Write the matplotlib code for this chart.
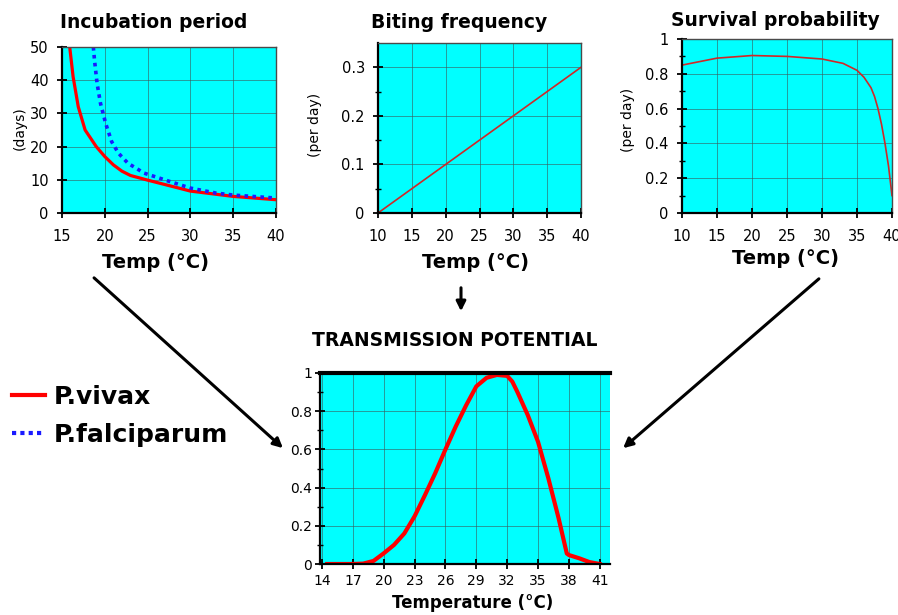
import numpy as np
import matplotlib
matplotlib.use('Agg')
import matplotlib.pyplot as plt
from matplotlib.patches import FancyArrowPatch
from matplotlib.lines import Line2D

# incubation period (days)
vivax_t = [15.9, 16.3, 16.9, 17.7, 19, 20, 21, 22, 23, 25, 28.8, 30, 35, 40]
vivax_days = [50, 41, 32, 25, 20, 17, 14.5, 12.6, 11.3, 9.9, 7.4, 6.6, 5.0, 4.0]
falc_t = [18.66, 18.8, 19.1, 19.5, 20.1, 20.8, 21.6, 22.7, 24.6, 27.7, 30, 33, 35, 40]
falc_days = [50, 46, 39, 33, 27, 21.5, 18, 15, 12, 9.4, 7.5, 6.0, 5.4, 4.5]

# biting frequency (per day)
bite_t = [10, 15, 20, 25, 30, 35, 40]
bite_freq = [0, 0.05, 0.1, 0.15, 0.2, 0.25, 0.3]

# survival probability (per day)
surv_t = [10, 15, 20, 25, 30, 33, 35, 36, 37, 37.5, 38, 38.5, 39, 39.5, 40]
surv_p = [0.85, 0.89, 0.905, 0.9, 0.885, 0.86, 0.82, 0.78, 0.72, 0.67, 0.6, 0.51, 0.4, 0.27, 0.1]

# transmission potential
trans_t = [14.5, 16, 17, 18, 19, 20, 21, 22, 23, 24, 25, 26, 27, 28, 29, 30, 31, 32, 32.5,
           33, 34, 35, 36, 37, 37.8, 38, 39, 40, 41]
trans_v = [0, 0, 0, 0.002, 0.016, 0.056, 0.1, 0.16, 0.25, 0.36, 0.475, 0.6, 0.72, 0.83, 0.93,
           0.975, 0.99, 0.985, 0.955, 0.9, 0.78, 0.64, 0.45, 0.24, 0.055, 0.047, 0.03, 0.01, 0]

W, H = 898, 615
CYAN = '#00ffff'
GRID = '#3c5a5a'


def fx(x):
    return x / W


def fy(y):
    return 1 - y / H


def make_ax(fig, left, top, right, bottom, xpad=8, ypad=6, size=10.5):
    ax = fig.add_axes([fx(left), fy(bottom), (right - left) / W, (bottom - top) / H])
    ax.set_facecolor(CYAN)
    ax.grid(True, color=GRID, lw=0.6, alpha=0.7)
    ax.set_axisbelow(True)
    for s in ['left', 'bottom']:
        ax.spines[s].set_color('black')
        ax.spines[s].set_linewidth(1.6)
    for s in ['top', 'right']:
        ax.spines[s].set_color('#4a4a4a')
        ax.spines[s].set_linewidth(1.0)
    ax.tick_params(which='major', direction='inout', length=7, width=1.3, labelsize=size)
    ax.tick_params(axis='x', which='major', pad=xpad)
    ax.tick_params(axis='y', which='major', pad=ypad)
    ax.tick_params(which='minor', direction='inout', length=5, width=1.0)
    return ax


fig = plt.figure(figsize=(W / 100, H / 100), dpi=100)

# Incubation period
ax1 = make_ax(fig, 62, 47, 276, 213)
ax1.plot(vivax_t, vivax_days, color='#ff0000', lw=2.3)
ax1.plot(falc_t, falc_days, color='#1a1aff', lw=2.6, ls=(0, (1, 1.2)))
ax1.set_xlim(15, 40)
ax1.set_ylim(0, 50)
ax1.set_xticks(range(15, 41, 5))
ax1.set_yticks(range(0, 51, 10))

# Biting frequency
ax2 = make_ax(fig, 378, 43, 581, 213)
ax2.plot(bite_t, bite_freq, color='#d02828', lw=1.2)
ax2.set_xlim(10, 40)
ax2.set_ylim(0, 0.35)
ax2.set_xticks(range(10, 41, 5))
ax2.set_yticks([0, 0.1, 0.2, 0.3])
ax2.set_yticklabels(['0', '0.1', '0.2', '0.3'])
ax2.set_yticks([0.05, 0.15, 0.25], minor=True)

# Survival probability
ax3 = make_ax(fig, 682, 39, 892, 213)
ax3.plot(surv_t, surv_p, color='#d02828', lw=1.2)
ax3.set_xlim(10, 40)
ax3.set_ylim(0, 1)
ax3.set_xticks(range(10, 41, 5))
ax3.set_yticks([0, 0.2, 0.4, 0.6, 0.8, 1])
ax3.set_yticklabels(['0', '0.2', '0.4', '0.6', '0.8', '1'])
ax3.set_yticks([0.1, 0.3, 0.5, 0.7, 0.9], minor=True)

# Transmission potential
ax4 = make_ax(fig, 320, 373, 610, 564, xpad=4, ypad=2, size=10)
ax4.plot(trans_t, trans_v, color='#ff0000', lw=3)
ax4.set_xlim(13.8, 42)
ax4.set_ylim(0, 1)
ax4.set_xticks(range(14, 42, 3))
ax4.set_yticks([0, 0.2, 0.4, 0.6, 0.8, 1])
ax4.set_yticklabels(['0', '0.2', '0.4', '0.6', '0.8', '1'])
ax4.set_yticks([0.1, 0.3, 0.5, 0.7, 0.9], minor=True)
ax4.spines['top'].set_color('black')
ax4.spines['top'].set_linewidth(3)
ax4.spines['right'].set_visible(False)

# titles and labels
tkw = dict(ha='center', va='center', fontweight='bold')
fig.text(fx(154), fy(22), 'Incubation period', fontsize=13.5, **tkw)
fig.text(fx(459), fy(22), 'Biting frequency', fontsize=13.5, **tkw)
fig.text(fx(775), fy(20), 'Survival probability', fontsize=13.5, **tkw)
fig.text(fx(455), fy(341), 'TRANSMISSION POTENTIAL', fontsize=13.5, **tkw)

fig.text(fx(155), fy(263), 'Temp (°C)', fontsize=14, **tkw)
fig.text(fx(476), fy(263), 'Temp (°C)', fontsize=14, **tkw)
fig.text(fx(785), fy(259), 'Temp (°C)', fontsize=14, **tkw)
fig.text(fx(473), fy(603), 'Temperature (°C)', fontsize=12, **tkw)

fig.text(fx(20), fy(128), '(days)', rotation=90, fontsize=10, ha='center', va='center')
fig.text(fx(315), fy(125), '(per day)', rotation=90, fontsize=10, ha='center', va='center')
fig.text(fx(628), fy(120), '(per day)', rotation=90, fontsize=10, ha='center', va='center')

# legend
fig.add_artist(Line2D([fx(12), fx(45)], [fy(395), fy(395)], color='#ff0000', lw=3))
fig.add_artist(Line2D([fx(12), fx(45)], [fy(433), fy(433)], color='#1a1aff', lw=3,
                      ls=(0, (1, 1))))
fig.text(fx(54), fy(397), 'P.vivax', fontsize=18, fontweight='bold', ha='left', va='center')
fig.text(fx(54), fy(435), 'P.falciparum', fontsize=18, fontweight='bold', ha='left', va='center')

# arrows
for a, b in [((92, 276), (285, 450)), ((461, 285), (461, 314)), ((821, 277), (621, 450))]:
    arr = FancyArrowPatch((fx(a[0]), fy(a[1])), (fx(b[0]), fy(b[1])),
                          transform=fig.transFigure, arrowstyle='-|>',
                          mutation_scale=14, lw=2.2, color='black')
    fig.add_artist(arr)

fig.savefig('out.png', dpi=100)
